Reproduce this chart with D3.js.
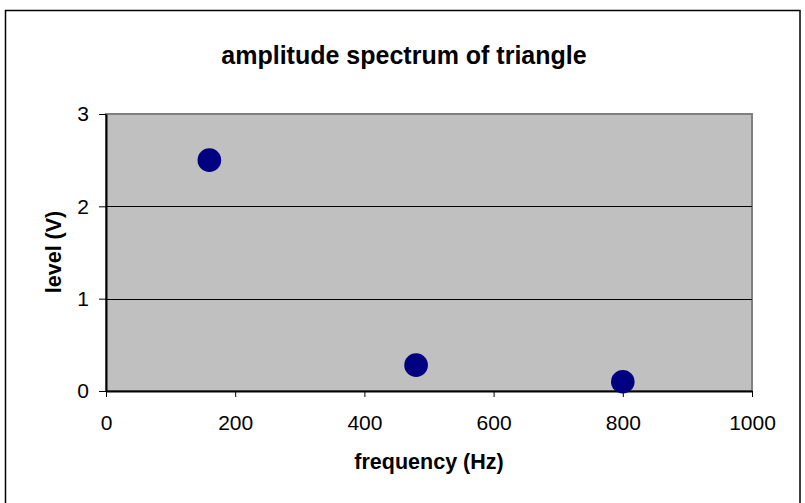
<!DOCTYPE html>
<html>
<head>
<meta charset="utf-8">
<script src="https://cdn.jsdelivr.net/npm/d3@7"></script>
<style>
  body { margin: 0; background: #fff; }
  svg text { font-family: "Liberation Sans", Arial, sans-serif; fill: #000; }
</style>
</head>
<body>
<script>
// spectrum lines of the triangle wave
var freqs = [160, 480, 800];
var levels = [2.5, 0.28, 0.1];
var xTicks = [0, 200, 400, 600, 800, 1000];
var yTicks = [0, 1, 2, 3];

var width = 805, height = 503;
var pLeft = 106, pRight = 752, pTop = 114, pBottom = 391;

var svg = d3.select("body")
    .append("svg")
    .attr("width", width)
    .attr("height", height);

// chart area frame
svg.append("rect")
    .attr("x", 5.5)
    .attr("y", 10.5)
    .attr("width", 794.5)
    .attr("height", 500)
    .attr("fill", "#fff")
    .attr("stroke", "#000")
    .attr("stroke-width", 1.5);

var x = d3.scaleLinear().domain([0, 1000]).range([pLeft, pRight]);
var y = d3.scaleLinear().domain([0, 3]).range([pBottom, pTop]);

// plot area
svg.append("rect")
    .attr("x", pLeft)
    .attr("y", pTop)
    .attr("width", pRight - pLeft)
    .attr("height", pBottom - pTop)
    .attr("fill", "#c0c0c0")
    .attr("stroke", "#808080")
    .attr("stroke-width", 2);

// gridlines
svg.selectAll(".grid")
    .data(yTicks.filter(function(d) { return d > 0 && d < 3; }))
    .enter()
    .append("line")
    .attr("x1", pLeft)
    .attr("x2", pRight)
    .attr("y1", function(d) { return Math.round(y(d)) + 0.5; })
    .attr("y2", function(d) { return Math.round(y(d)) + 0.5; })
    .attr("stroke", "#000")
    .attr("stroke-width", 1);

var xAxis = svg.append("g")
    .attr("transform", "translate(0," + pBottom + ")")
    .call(d3.axisBottom(x).tickValues(xTicks).tickFormat(d3.format("d"))
        .tickSize(6).tickSizeOuter(0).tickPadding(18));

var yAxis = svg.append("g")
    .attr("transform", "translate(" + pLeft + ",0)")
    .call(d3.axisLeft(y).tickValues(yTicks).tickFormat(d3.format("d"))
        .tickSize(7).tickSizeOuter(0).tickPadding(10));

[xAxis, yAxis].forEach(function(ax) {
    ax.selectAll("text")
        .attr("font-size", "21px")
        .attr("font-family", "Liberation Sans, Arial, sans-serif")
        .attr("fill", "#000");
    ax.selectAll("line").attr("stroke", "#000");
    ax.select(".domain").attr("stroke", "#000").attr("stroke-width", 2);
});

// points
svg.selectAll(".pt")
    .data(freqs)
    .enter()
    .append("circle")
    .attr("cx", function(d) { return x(d); })
    .attr("cy", function(d, i) { return y(levels[i]); })
    .attr("r", 11.8)
    .attr("fill", "#000080");

svg.append("text")
    .attr("x", 404)
    .attr("y", 63.5)
    .attr("text-anchor", "middle")
    .attr("font-size", "25px")
    .attr("font-weight", "bold")
    .text("amplitude spectrum of triangle");

svg.append("text")
    .attr("x", 429)
    .attr("y", 469)
    .attr("text-anchor", "middle")
    .attr("font-size", "21.5px")
    .attr("font-weight", "bold")
    .text("frequency (Hz)");

svg.append("text")
    .attr("transform", "translate(61,252) rotate(-90)")
    .attr("text-anchor", "middle")
    .attr("font-size", "21.5px")
    .attr("font-weight", "bold")
    .text("level (V)");
</script>
</body>
</html>
